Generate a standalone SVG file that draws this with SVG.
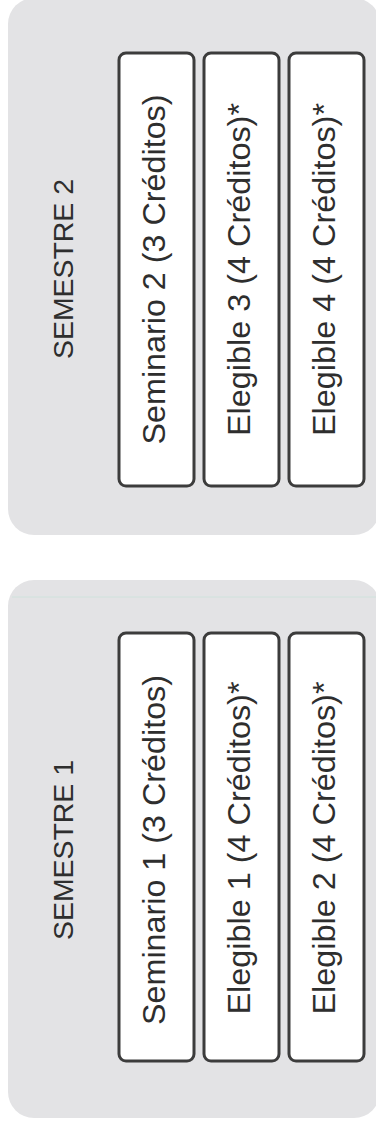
<svg xmlns="http://www.w3.org/2000/svg" width="376" height="1124" viewBox="0 0 376 1124">
  <style>
    .panel { fill: #e3e3e5; }
    .box { fill: #ffffff; stroke: #3c3c3c; stroke-width: 3; }
    .title { font-family: "Liberation Sans", Arial, sans-serif; font-size: 28.5px; fill: #2e2e2e; }
    .label { font-family: "Liberation Sans", Arial, sans-serif; font-size: 32px; fill: #2e2e2e; }
  </style>
  <rect x="0" y="0" width="376" height="1124" fill="#ffffff"/>

  <g id="semestre2">
    <rect class="panel" x="8" y="-2" width="372" height="537" rx="26" ry="26"/>
    <text class="title" transform="translate(73,269) rotate(-90)" text-anchor="middle" textLength="180" lengthAdjust="spacingAndGlyphs">SEMESTRE 2</text>
  </g>
  <g id="seminario2">
    <rect class="box" x="119" y="53" width="75" height="433" rx="7" ry="7"/>
    <text class="label" transform="translate(165,269.5) rotate(-90)" text-anchor="middle" textLength="350" lengthAdjust="spacingAndGlyphs">Seminario 2 (3 Créditos)</text>
  </g>
  <g id="elegible3">
    <rect class="box" x="204" y="53" width="75" height="433" rx="7" ry="7"/>
    <text class="label" transform="translate(250,269.5) rotate(-90)" text-anchor="middle" textLength="333" lengthAdjust="spacingAndGlyphs">Elegible 3 (4 Créditos)*</text>
  </g>
  <g id="elegible4">
    <rect class="box" x="289" y="53" width="75" height="433" rx="7" ry="7"/>
    <text class="label" transform="translate(335,269.5) rotate(-90)" text-anchor="middle" textLength="333" lengthAdjust="spacingAndGlyphs">Elegible 4 (4 Créditos)*</text>
  </g>

  <g id="semestre1">
    <rect class="panel" x="8" y="580" width="372" height="538" rx="26" ry="26"/>
    <line x1="12" y1="597" x2="376" y2="597" stroke="#cfe2dc" stroke-width="1"/>
    <text class="title" transform="translate(73,850) rotate(-90)" text-anchor="middle" textLength="180" lengthAdjust="spacingAndGlyphs">SEMESTRE 1</text>
  </g>
  <g id="seminario1">
    <rect class="box" x="119" y="633" width="75" height="428" rx="7" ry="7"/>
    <text class="label" transform="translate(165,850) rotate(-90)" text-anchor="middle" textLength="350" lengthAdjust="spacingAndGlyphs">Seminario 1 (3 Créditos)</text>
  </g>
  <g id="elegible1">
    <rect class="box" x="204" y="633" width="75" height="428" rx="7" ry="7"/>
    <text class="label" transform="translate(250,848) rotate(-90)" text-anchor="middle" textLength="333" lengthAdjust="spacingAndGlyphs">Elegible 1 (4 Créditos)*</text>
  </g>
  <g id="elegible2">
    <rect class="box" x="289" y="633" width="75" height="428" rx="7" ry="7"/>
    <text class="label" transform="translate(335,848) rotate(-90)" text-anchor="middle" textLength="333" lengthAdjust="spacingAndGlyphs">Elegible 2 (4 Créditos)*</text>
  </g>

  <g id="connectors"></g>
</svg>
